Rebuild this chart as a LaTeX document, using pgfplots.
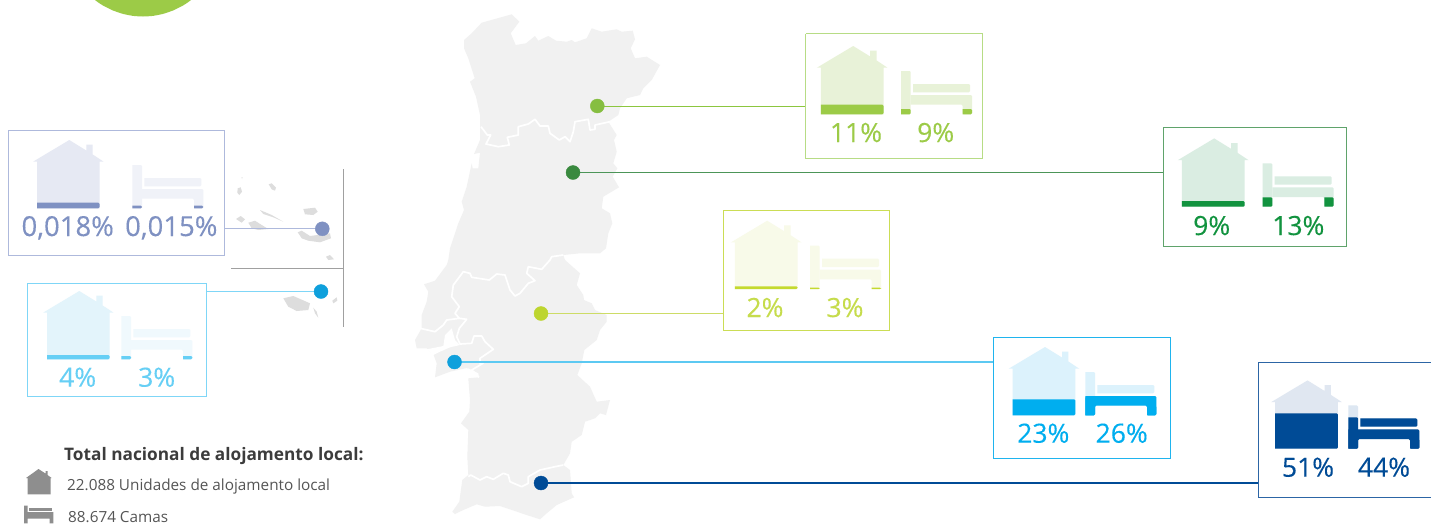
\documentclass[border=0pt]{standalone}
\usepackage{pgfplots}
\pgfplotsset{compat=1.18}
\usepackage{fontspec}
\setmainfont{Open Sans}
\newfontfamily\pctfont[FakeBold=0.25]{Open Sans}
\definecolor{nD}{HTML}{9CCB47}\definecolor{nB}{HTML}{B7DC85}\definecolor{nL}{HTML}{E8F2D8}\definecolor{nP}{HTML}{86BE41}\definecolor{nI}{HTML}{8CC63F}
\definecolor{cD}{HTML}{12933F}\definecolor{cB}{HTML}{5FA36B}\definecolor{cL}{HTML}{DAEDE2}\definecolor{cP}{HTML}{3A8A3F}\definecolor{cI}{HTML}{4C9558}
\definecolor{aD}{HTML}{C4D92E}\definecolor{aB}{HTML}{CBDD55}\definecolor{aL}{HTML}{F8FAE9}\definecolor{aP}{HTML}{BDD52F}\definecolor{aI}{HTML}{CDDC66}\definecolor{aT}{HTML}{C6DC4C}
\definecolor{lD}{HTML}{00AEEF}\definecolor{lB}{HTML}{1FB4EE}\definecolor{lL}{HTML}{DCF2FC}\definecolor{lP}{HTML}{0FA0DC}\definecolor{lI}{HTML}{5CC9F2}
\definecolor{gD}{HTML}{004B96}\definecolor{gB}{HTML}{2C65A5}\definecolor{gL}{HTML}{E0E7F1}\definecolor{gBed}{HTML}{DDE7F2}
\definecolor{zD}{HTML}{7F91C2}\definecolor{zB}{HTML}{AEB9DC}\definecolor{zL}{HTML}{E6E9F3}\definecolor{zBed}{HTML}{F0F2F8}
\definecolor{mD}{HTML}{66CFF5}\definecolor{mB}{HTML}{7FD6F7}\definecolor{mL}{HTML}{E3F4FB}\definecolor{mBed}{HTML}{F0F9FD}
\definecolor{mapg}{HTML}{F1F1F1}\definecolor{isl}{HTML}{DDDDDD}\definecolor{rule}{HTML}{A0A0A0}\definecolor{icon}{HTML}{8E8E8E}\definecolor{tA}{HTML}{3C3C3C}\definecolor{tB}{HTML}{555555}
\newcommand{\poly}[2]{\addplot[fill=#1,draw=none] coordinates {#2};}
\newcommand{\rpoly}[4]{\addplot[fill=#1,draw=none,xshift=#2pt,yshift=-#3pt] coordinates {#4};}
\newcommand{\rrpoly}[4]{\addplot[fill=#1,draw=none,rounded corners=1.2pt,xshift=#2pt,yshift=-#3pt] coordinates {#4};}
% house: wall centre x, bottom y, light colour
\newcommand{\house}[3]{\rpoly{#3}{#1}{#2}{(1,-68.3)(18,-57.8)(18,-63.6)(24.3,-63.6)(24.3,-53.9)(35.3,-46.6)(31.3,-46.6)(31.3,0)(-31.3,0)(-31.3,-46.6)(-35.3,-46.6)}}
\newcommand{\bed}[3]{%
 \rrpoly{#3}{#1}{#2}{(0,-43.3)(9.7,-43.3)(9.7,0)(0,0)}
 \rrpoly{#3}{#1}{#2}{(9.7,-19.3)(71,-19.3)(71,0)(61.7,0)(61.7,-9.6)(9.7,-9.6)}
 \rrpoly{#3}{#1}{#2}{(12,-30.3)(69,-30.3)(69,-22)(12,-22)}}
% dark parts: house level
\newcommand{\hlev}[4]{\rrpoly{#3}{#1}{#2}{(-31.3,-#4)(31.3,-#4)(31.3,0)(-31.3,0)}}
% bed: post and leg level
\newcommand{\blev}[5]{\rrpoly{#3}{#1}{#2}{(0,-#4)(9.7,-#4)(9.7,0)(0,0)}
 \rrpoly{#3}{#1}{#2}{(61.7,-#5)(71,-#5)(71,0)(61.7,0)}}
\newcommand{\bmat}[3]{\rrpoly{#3}{#1}{#2}{(0,-19.3)(71,-19.3)(71,0)(61.7,0)(61.7,-9.6)(9.7,-9.6)(9.7,0)(0,0)}}
\newcommand{\bbox}[5]{\addplot[draw=#1,line width=1pt] coordinates {(#2,#4)(#3,#4)(#3,#5)(#2,#5)(#2,#4)};}
\newcommand{\link}[6]{\addplot[draw=#1,line width=#6pt] coordinates {(#2,#4)(#3,#4)};
 \addplot[only marks,mark=*,mark size=7pt,color=#5,mark options={draw=#5,fill=#5}] coordinates {(#2,#4)};}
\newcommand{\pct}[4]{\node[anchor=base,text=#1,inner sep=0pt] at (axis cs:#2,#3) {\fontsize{26.5}{30}\pctfont #4};}
\newcommand{\pctz}[4]{\node[anchor=base,text=#1,inner sep=0pt] at (axis cs:#2,#3) {\fontsize{27.5}{30}\pctfont #4};}
\newcommand{\white}[1]{\addplot[draw=white,line width=1.7pt,line join=round] coordinates {#1};}
\begin{document}
\begin{tikzpicture}
\begin{axis}[hide axis,scale only axis,width=1431pt,height=528pt,xmin=0,xmax=1431,ymin=0,ymax=528,y dir=reverse,clip=true]
\addplot[draw=none,fill=white] coordinates {(0,0)(1431,0)(1431,528)(0,528)};
% green circle at the page top
\poly{nD}{(95,0)(99,3)(103,5.5)(108,8.1)(113,10.5)(118,12.3)(123,13.9)(128,15)(133,15.9)(138,16.3)(143,16.5)(148,16.3)(153,15.9)(158,15)(163,13.9)(168,12.3)(173,10.5)(178,8.1)(183,5.5)(187,3)(191,0)}
% map
\poly{mapg}{(464,40)(471.7,33.3)(481.7,22.7)(495,19)(511.7,14.3)(519.3,21.7)(510.7,33.3)(515.7,45)(526,43.3)(535,36)(538.3,40.7)(548.3,36)(556,40.7)(566.7,41.7)(571.7,40)(575,42.3)(586.7,38.3)(591.7,28.3)(601.7,31.7)(616.7,29.3)(621.7,31.7)(632.7,30.7)(635,39.3)(630.7,48.3)(635,58.3)(646.7,56.7)(660,65)(651.7,80)(643.3,88.3)(640,95)(626.7,98.3)(620,108.3)(618.3,115)(608.3,121.7)(616.7,135)(614,140)(616.7,151.7)(613.3,163.3)(617.3,168.3)(612.7,176.7)(619,187.3)(603.3,196.7)(601.7,208.3)(610,213.3)(612.3,223.3)(608.3,233.3)(606,248.3)(600,253.3)(580,253.3)(563.3,255)(565,260)(580,273.3)(576.7,285)(583.3,295)(584,300)(591.7,303.3)(595,310)(606.7,315)(606.7,321.7)(600,330)(596.7,340)(584.3,350)(581.7,363.3)(577.3,375)(590,386.7)(596.7,401.7)(610,400)(606,415)(600,413.3)(595,418.3)(585,421.7)(581.7,435)(571.7,441.7)(570,453.3)(563.3,465)(570,470)(571.7,493.3)(574,497.3)(556.7,505)(546.7,513.3)(540,519.3)(526.7,515)(500,506)(485,506.7)(476.7,504.3)(463.3,510)(455,514)(452.3,511.7)(459.3,501.7)(462.3,480)(468.3,475)(467.3,456.7)(468.3,430)(461,423.3)(469.3,411.7)(470,400)(468.3,378.3)(478.3,377.3)(475,371.7)(466.7,368)(450,371.7)(435,377.3)(436.7,363.3)(433.3,354)(426.7,348.3)(416.7,348.3)(415,340)(421.7,328.3)(421.7,315)(426.7,301.7)(428.3,291.7)(424,284.3)(435,280.7)(446.7,265)(448.3,260)(450,248.3)(458.3,223.3)(464,210)(461.7,201.7)(466.7,186.7)(471.7,163.3)(472.7,168.3)(478.3,168.3)(480,152.7)(474,154)(480,140)(480,115)(476,96.7)(470,81.7)(474.7,78.3)(468.3,58.3)(464,48.3)}
\poly{white}{(426.7,349.3)(443.3,346)(445,335)(451.7,328.3)(455,340)(460,345)(450,347.3)(440,351.7)(433.3,355)}
\poly{white}{(468.3,368.3)(478.3,373.3)(479,377.3)(466.7,376.7)}
\white{(481,126.7)(487.3,135)(490.7,135)(486,144)(498.3,146.7)(509.3,145)(507.3,137.3)(518.3,135)(518.3,126.7)(528.3,124)(535,119.3)(540,126)(548.3,126)(550,133.3)(559.3,140)(565,136.7)(570,141.7)(573.3,131.7)(575,121.7)(588.3,119.3)(590,130)(595,129.3)(595,125)(610,121.7)}
\white{(563.3,255)(551.7,256.7)(550,260)(541.7,269.3)(528.3,266.7)(526.7,273.3)(535,280.7)(528.3,283.3)(520,293.3)(515,296)(510,290)(505,275)(496.7,274)(489.3,280)(471.7,277.3)(470,273.3)(463.3,271.7)(453.3,285)(451.7,296.7)(459.3,306.7)(455,313.3)(459.3,318.3)(446.7,320)(443.3,325)(435,331.7)(420,328.3)}
\white{(459.3,318.3)(466.7,319.3)(459.3,328.3)(456.7,336.7)(460,344)(471.7,343.3)(474,336)(481.7,336)(485,341.7)(493.3,349.3)(480,358.3)(480,363.3)(483,363.3)(471.7,370)(479,377.3)}
\white{(468.3,476.7)(470.7,475)(480,480)(486.7,476.7)(493.3,479.3)(503.3,473.3)(508.3,475)(510,481.7)(521.7,486.7)(528.3,483.3)(528.3,476.7)(540,470)(555,466.7)(563.3,465)}
% islands
\poly{isl}{(241.5,177)(242.5,177)(242,179)}
\poly{isl}{(237.7,188.3)(240.7,187.3)(242,191.7)(239.3,195)(237.3,192.7)}
\poly{isl}{(268.7,184.3)(271.7,183.3)(276,187.7)(275,190.7)(271.7,189.3)}
\poly{isl}{(303.3,209)(315,207.7)(317.7,211.7)(313.3,215)(305,214.3)}
\poly{isl}{(260,210)(271.7,215)(283.3,221.7)(273.3,217.3)(263.3,214)}
\poly{isl}{(236,219)(240.7,216)(245,219.3)(241.7,222.7)}
\poly{isl}{(248.3,222.7)(255,220.7)(261.7,225)(268.3,229)(258.3,230)(251.7,228.3)}
\poly{isl}{(297.7,232.3)(301.7,230.7)(310,236)(330,233.3)(331,238.3)(320,242.3)(308.3,240.7)(301.7,238.3)}
\poly{isl}{(326,256.7)(330,255)(334,259.3)(328.3,260)}
\poly{isl}{(283.3,298.3)(293.3,296)(310,303.3)(308.3,310)(296.7,311)(288.3,306.7)}
\poly{isl}{(332.3,300.7)(336.7,297.3)(337.3,300.7)(333.3,303.3)}
\poly{isl}{(313.3,307.7)(316.7,311.7)(318.3,317.7)(315,313.3)}
% separator of the islands
\addplot[draw=rule,line width=1.3pt] coordinates {(343.8,169)(343.8,327)};
\addplot[draw=rule,line width=1.3pt] coordinates {(231,268.3)(343.8,268.3)};
% links and dots
\link{nI}{597.3}{806}{106}{nP}{1}
\link{cI}{573}{1163.3}{172.5}{cP}{1.1}
\link{aI}{541}{723}{313.5}{aP}{1.3}
\link{lI}{454.5}{993.3}{362}{lP}{1.5}
\link{gD}{541}{1258.3}{483}{gD}{1.1}
\link{zB}{322.3}{225}{228.8}{zD}{1}
\link{mB}{321}{207}{291.5}{lP}{1}
% Norte
\bbox{nB}{805.7}{982.7}{33.7}{158.5}
\house{852.2}{114.3}{nL}\hlev{852.2}{114.3}{nD}{9.6}
\bed{901}{114.3}{nL}\blev{901}{114.3}{nD}{5.3}{5.3}
\pct{nD}{856}{142}{11\%}\pct{nD}{935.7}{142}{9\%}
% Centro
\bbox{cB}{1163.3}{1346.7}{127.7}{246}
\house{1213.2}{206.7}{cL}\hlev{1213.2}{206.7}{cD}{5.7}
\bed{1262.7}{206.7}{cL}\blev{1262.7}{206.7}{cD}{9.3}{9.3}
\pct{cD}{1211.7}{235}{9\%}\pct{cD}{1298.3}{235}{13\%}
% Alentejo
\bbox{aB}{723}{889.3}{210.3}{330.3}
\house{766.2}{289}{aL}\hlev{766.2}{289}{aD}{2.7}
\bed{810}{289}{aL}\blev{810}{289}{aD}{1.3}{1.3}
\pct{aT}{765}{317}{2\%}\pct{aT}{845}{317}{3\%}
% Lisboa
\bbox{lB}{993.3}{1170.7}{337.3}{458.3}
\house{1044}{415.3}{lL}\hlev{1044}{415.3}{lD}{16}
\bed{1085.3}{415.3}{lL}\bmat{1085.3}{415.3}{lD}\blev{1085.3}{415.3}{lD}{18}{9.6}
\pct{lD}{1043.3}{442.7}{23\%}\pct{lD}{1121.7}{442.7}{26\%}
% Algarve
\addplot[draw=gB,line width=1pt] coordinates {(1436,362)(1258.3,362)(1258.3,497.7)(1436,497.7)};
\house{1306.5}{448.7}{gL}\hlev{1306.5}{448.7}{gD}{35.4}
\bed{1348.3}{448.7}{gBed}\bmat{1348.3}{448.7}{gD}\blev{1348.3}{448.7}{gD}{31.4}{9.6}
\rrpoly{gD}{1348.3}{448.7}{(12,-30.3)(69,-30.3)(69,-22)(12,-22)}
\pct{gD}{1308}{476.7}{51\%}\pct{gD}{1384}{476.7}{44\%}
% Acores
\bbox{zB}{8}{224.7}{130.7}{255}
\house{68.3}{208.3}{zL}\hlev{68.3}{208.3}{zD}{5.6}
\bed{132.3}{208.3}{zBed}\blev{132.3}{208.3}{zD}{2.7}{2.7}
\pctz{zD}{67.7}{236}{0,018\%}\pctz{zD}{171.3}{236}{0,015\%}
% Madeira
\bbox{mB}{27}{206.7}{283.7}{396}
\house{78.3}{359.3}{mL}\hlev{78.3}{359.3}{mD}{4.3}
\bed{121.3}{359.3}{mBed}\blev{121.3}{359.3}{mD}{3.3}{3.3}
\pct{mD}{77.7}{386.7}{4\%}\pct{mD}{156.7}{386.7}{3\%}
% national total
\poly{icon}{(38.5,469)(45.5,473.5)(45.5,471)(47.5,471)(47.5,475)(51.7,478)(50.5,478)(50.5,494.3)(27.5,494.3)(27.5,478)(26,478)}
\poly{icon}{(24,505.7)(27.5,505.7)(27.5,512)(53.3,512)(53.3,523.3)(49.5,523.3)(49.5,518.5)(27.5,518.5)(27.5,523.3)(24,523.3)}
\poly{icon}{(29,507.5)(52,507.5)(52,510.5)(29,510.5)}
\node[anchor=base west,text=tA,inner sep=0pt] at (axis cs:64,460.7) {\fontsize{17.25}{20}\selectfont\bfseries Total nacional de alojamento local:};
\node[anchor=base west,text=tB,inner sep=0pt] at (axis cs:67,490) {\fontsize{15.3}{18}\selectfont 22.088 Unidades de alojamento local};
\node[anchor=base west,text=tB,inner sep=0pt] at (axis cs:68,522.7) {\fontsize{15.3}{18}\selectfont 88.674 Camas};
\end{axis}
\end{tikzpicture}
\end{document}
